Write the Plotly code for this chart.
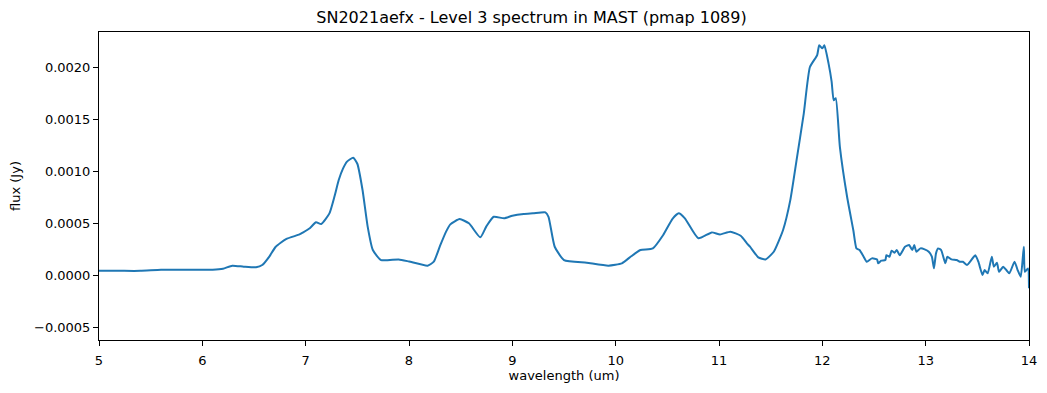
import plotly.graph_objects as go

wavelength = [5.0, 5.2, 5.4, 5.6, 5.8, 6.0, 6.1, 6.2, 6.29, 6.4, 6.52, 6.58, 6.65, 6.71, 6.81, 6.94, 6.97,
              7.04, 7.10, 7.15, 7.23, 7.28, 7.32, 7.36, 7.40, 7.46, 7.50, 7.55, 7.60, 7.65, 7.73, 7.90, 8.0, 8.18, 8.24,
              8.30, 8.36, 8.40, 8.49, 8.58, 8.69, 8.75, 8.82, 8.92, 9.0, 9.11, 9.20, 9.32, 9.35, 9.41, 9.50, 9.72,
              9.93, 10.06, 10.15, 10.24, 10.36, 10.46, 10.55, 10.61, 10.67, 10.80, 10.93, 11.01, 11.11, 11.21,
              11.27, 11.30, 11.38, 11.45, 11.53, 11.62, 11.69, 11.75, 11.82, 11.88, 11.95, 11.97, 12.00, 12.02,
              12.06, 12.09, 12.11, 12.13, 12.17, 12.24, 12.30, 12.33, 12.36, 12.40, 12.43, 12.48, 12.53, 12.54,
              12.57, 12.61, 12.62, 12.65, 12.67, 12.70, 12.72, 12.75, 12.80, 12.84, 12.87, 12.89, 12.91, 12.95,
              12.99, 13.03, 13.06, 13.08, 13.10, 13.12, 13.15, 13.19, 13.21, 13.25, 13.30, 13.33, 13.36, 13.40,
              13.43, 13.48, 13.51, 13.55, 13.57, 13.60, 13.64, 13.66, 13.69, 13.71, 13.75, 13.78, 13.81, 13.86,
              13.89, 13.92, 13.95, 13.96, 13.99, 14.0]
flux = [0.00004, 0.00004, 0.00004, 0.00005, 0.00005, 0.00005, 0.00005, 0.00006, 0.00009, 0.00008, 0.000074, 0.000096,
        0.00018, 0.000272, 0.000346, 0.00039, 0.000407,
        0.00045, 0.000507, 0.00049, 0.000593, 0.00076, 0.000913, 0.00102, 0.00109, 0.001128, 0.00107, 0.00082,
        0.000465, 0.00024, 0.000144, 0.00015, 0.00013, 0.00009, 0.000128,
        0.00028, 0.00042, 0.000487, 0.000538, 0.000497, 0.000362, 0.00047, 0.00056, 0.000545, 0.00057, 0.000587,
        0.000593, 0.000603, 0.00056, 0.000272, 0.000144, 0.000118,
        0.00009, 0.000112, 0.00018, 0.00024, 0.000256, 0.000385, 0.00054, 0.000593, 0.000545, 0.000353, 0.00041,
        0.00039, 0.000417, 0.000378,
        0.000305, 0.000272, 0.00017, 0.00015, 0.000224, 0.000433, 0.00072, 0.0011, 0.00155, 0.0020, 0.002115,
        0.00221, 0.00218, 0.00221,
        0.002035, 0.00186, 0.00168, 0.0017, 0.00123, 0.00075, 0.00043, 0.000256, 0.00024, 0.000176, 0.000128,
        0.00016, 0.00015, 0.000112,
        0.000138, 0.000144, 0.00019, 0.000176, 0.000234, 0.000215, 0.00024, 0.00019, 0.000272, 0.000288,
        0.00024, 0.000288, 0.000224, 0.000256,
        0.000247, 0.000224, 0.000176, 0.000064, 0.000208, 0.000256, 0.00024, 0.000112, 0.000176, 0.00015,
        0.000144, 0.000128, 0.000128, 0.000096,
        0.000128, 0.00019, 0.000128, 0.0, 0.000048, 0.000016, 0.000176, 0.00008, 0.000118, 0.00003,
        0.00008, 0.000048, 0.000016, 0.000128,
        0.000048, -0.000016, 0.000272, 0.00003, 0.000064, -0.000128]

fig = go.Figure()
fig.add_trace(go.Scatter(x=wavelength, y=flux, mode="lines", line_shape="spline",
                         line=dict(color="#1f77b4", width=2, smoothing=0.5), showlegend=False))

axis_common = dict(showline=True, linecolor="black", linewidth=1, mirror=True, automargin=False,
                   ticks="outside", ticklen=5, tickcolor="black", showgrid=False, zeroline=False,
                   tickfont=dict(family="DejaVu Sans", size=13, color="black"))

fig.update_layout(
    width=1047, height=393,
    margin=dict(l=91, r=26, t=24, b=61),
    paper_bgcolor="white", plot_bgcolor="white",
    title=dict(text="SN2021aefx - Level 3 spectrum in MAST (pmap 1089)", x=0.5, xanchor="center",
               y=0.977, yanchor="middle", font=dict(family="DejaVu Sans", size=16, color="black")),
    xaxis=dict(range=[5, 14], dtick=1, ticklabelstandoff=3,
               title=dict(text="wavelength (um)", standoff=4,
               font=dict(family="DejaVu Sans", size=13, color="black")), **axis_common),
    yaxis=dict(range=[-0.000625, 0.002337], tickvals=[-0.0005, 0.0, 0.0005, 0.001, 0.0015, 0.002],
               ticktext=["\u22120.0005", "0.0000", "0.0005", "0.0010", "0.0015", "0.0020"],
               title=dict(text="flux (Jy)", standoff=10,
               font=dict(family="DejaVu Sans", size=13, color="black")), **axis_common),
)

fig.write_html("out.html")
